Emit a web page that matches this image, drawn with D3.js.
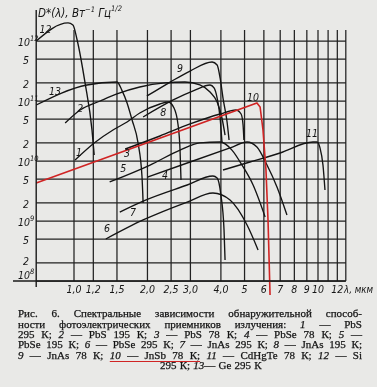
<!DOCTYPE html>
<html>
<head>
<meta charset="utf-8">
<title>Рис. 6. Спектральные зависимости D*</title>
<script src="https://cdn.jsdelivr.net/npm/d3@7"></script>
<style>
  body { margin: 0; background: #e9e9e7; }
  #wrap { position: relative; width: 377px; height: 387px; }
  #grid { position: absolute; left: 0; top: 0; }
  svg { display: block; position: absolute; left: 0; top: 0; }
  .curve { fill: none; stroke: #141414; stroke-width: 1.35; }
  .red { fill: none; stroke: #d02424; stroke-width: 1.6; }
  .lbl { font-family: "DejaVu Sans", "Liberation Sans", sans-serif; font-stretch: condensed;
         font-style: italic; font-size: 10.5px; fill: #151515; }
  .cap { font-family: "Liberation Serif", "DejaVu Serif", serif; font-size: 11px; fill: #141414;
         stroke: #141414; stroke-width: 0.25; }
</style>
</head>
<body>
<div id="wrap">
<canvas id="grid" width="377" height="387"></canvas>
<svg id="chart" width="377" height="387"></svg>
</div>
<script>
// [wavelength um, D* W^-1 Hz^1/2]
var pbs295 = [[1.01, 1.04e10], [1.21, 2.0e10], [1.445, 3.29e10], [1.65, 4.47e10], [1.86, 6.31e10],
              [2.25, 8.91e10], [2.43, 9.62e10], [2.57, 7.64e10], [2.67, 4.0e10], [2.72, 1.52e10], [2.745, 4.82e9]];
var pbs195 = [[0.92, 4.3e10], [1.06, 7.08e10], [1.28, 1.0e11], [1.50, 1.31e11], [1.86, 1.71e11], [2.36, 2.0e11],
              [2.85, 2.07e11], [3.28, 1.85e11], [3.61, 1.41e11], [3.86, 9.62e10], [4.04, 5.21e10], [4.16, 2.71e10]];
var pbs78 = [[1.62, 1.58e10], [2.25, 2.61e10], [2.99, 4.14e10], [3.97, 6.07e10], [4.61, 7.08e10],
             [4.84, 6.07e10], [4.93, 4.0e10], [4.97, 2.24e10]];
var pbse78 = [[2.01, 5.41e9], [2.99, 9.62e9], [4.36, 1.65e10], [5.12, 2.07e10], [5.62, 1.71e10],
              [6.18, 8.57e9], [6.79, 3.69e9], [7.46, 1.26e9]];
var pbse195 = [[1.40, 4.47e9], [2.05, 8.57e9], [2.72, 1.52e10], [3.28, 2.0e10], [3.97, 2.07e10],
               [4.44, 1.52e10], [4.88, 8.57e9], [5.42, 3.98e9], [6.07, 1.17e9]];
var pbse295 = [[1.35, 5.01e8], [1.92, 1.04e9], [2.91, 2.07e9], [3.71, 2.93e9], [4.36, 2.24e9],
               [5.12, 8.57e8], [5.68, 3.29e8]];
var inas295 = [[1.54, 1.41e9], [1.92, 2.15e9], [2.91, 3.98e9], [3.71, 5.62e9], [3.86, 5.21e9],
               [4.0, 2.71e9], [4.12, 7.08e8], [4.16, 2.24e8]];
var inas195 = [[1.92, 5.41e10], [2.55, 1.04e11], [3.13, 1.52e11], [3.61, 1.85e11], [3.75, 1.65e11],
               [3.86, 1.12e11], [3.97, 5.21e10], [4.04, 2.07e10]];
var inas78 = [[1.99, 1.21e11], [2.48, 2.07e11], [2.99, 3.16e11], [3.68, 4.47e11], [3.86, 3.98e11],
              [3.97, 2.42e11], [4.08, 1.12e11], [4.24, 4.47e10], [4.32, 2.24e10]];
var insb78 = [[0.70, 4.3e9], [5.62, 9.27e10], [5.79, 7.94e10], [5.95, 3.29e10], [6.12, 7.08e9],
              [6.24, 1.04e9], [6.36, 5.85e7]];
var cdhgte78 = [[4.08, 7.08e9], [5.26, 9.62e9], [6.99, 1.36e10], [9.54, 2.07e10], [9.91, 2.07e10],
                [10.19, 1.65e10], [10.48, 8.57e9], [10.68, 3.29e9]];
var si295 = [[0.70, 1.0e12], [0.945, 2.0e12], [0.99, 1.85e12], [1.03, 1.04e12], [1.11, 2.0e11],
             [1.185, 3.3e10], [1.21, 1.26e10]];
var ge295 = [[0.70, 8.57e10], [1.13, 1.85e11], [1.50, 2.07e11], [1.57, 1.52e11], [1.65, 9.27e10],
             [1.73, 4.82e10], [1.83, 2.0e10], [1.90, 5.41e9], [1.92, 2.0e9]];

var curves = [pbs295, pbs195, pbs78, pbse78, pbse195, pbse295, inas295, inas195, inas78, insb78, cdhgte78, si295, ge295];
var curveNames = ['1', '2', '3', '4', '5', '6', '7', '8', '9', '10', '11', '12', '13'];
var labelLam = [1.048, 1.06, 1.65, 2.36, 1.59, 1.365, 1.745, 2.32, 2.72, 5.42, 9.45, 0.765, 0.836];
var labelD = [1.41e10, 7.64e10, 1.36e10, 5.85e9, 7.64e9, 7.64e8, 1.41e9, 6.56e10, 3.55e11, 1.17e11, 2.93e10, 1.6e12, 1.47e11];

var xTicks = [1.0, 1.2, 1.5, 2.0, 2.5, 3.0, 4.0, 5, 6, 7, 8, 9, 10, 12];
var xTickLabels = ['1,0', '1,2', '1,5', '2,0', '2,5', '3,0', '4,0', '5', '6', '7', '8', '9', '10', '12'];
var xGrid = [1.0, 1.2, 1.5, 2.0, 2.5, 3.0, 4.0, 5, 6, 7, 8, 9, 10, 11, 12, 13];
var yTicks = [1e8, 2e8, 5e8, 1e9, 2e9, 5e9, 1e10, 2e10, 5e10, 1e11, 2e11, 5e11, 1e12];
var yTickLabels = ['10^8', '2', '5', '10^9', '2', '5', '10^10', '2', '5', '10^11', '2', '5', '10^12'];

var caption = [
  'Рис. 6. Спектральные зависимости обнаружительной способ-',
  'ности фотоэлектрических приемников излучения: _1_ — PbS',
  '295 К; _2_ — PbS 195 К; _3_ — PbS 78 К; _4_ — PbSe 78 К; _5_ —',
  'PbSe 195 К; _6_ — PbSe 295 К; _7_ — JnAs 295 К; _8_ — JnAs 195 К;',
  '_9_ — JnAs 78 К; _10_ — JnSb 78 К; _11_ — CdHgTe 78 К; _12_ — Si',
  '295 К; _13_— Ge 295 К'
];

var lamMin = 0.7, lamMax = 13;
var gridTop = 30;

var xs = d3.scaleLog().domain([1, 10]).range([74, 318]);
var ys = d3.scaleLog().domain([1e8, 1e12]).range([281, 41]);
var yBase = ys(1e8);
var gx0 = xs(lamMin), gx1 = xs(lamMax);

// grid on a canvas under the svg
var ctx = document.getElementById('grid').getContext('2d');
ctx.strokeStyle = '#222';
ctx.lineWidth = 1.25;
ctx.beginPath();
xGrid.forEach(function (v) {
  ctx.moveTo(xs(v), gridTop);
  ctx.lineTo(xs(v), yBase);
});
yTicks.forEach(function (v) {
  ctx.moveTo(gx0, ys(v));
  ctx.lineTo(gx1, ys(v));
});
ctx.stroke();

var svg = d3.select('#chart');

// curves
var lineGen = d3.line()
  .x(function (d) { return xs(d[0]); })
  .y(function (d) { return ys(d[1]); })
  .curve(d3.curveMonotoneX);

var redGen = d3.line()
  .x(function (d) { return xs(d[0]); })
  .y(function (d) { return ys(d[1]); });

curves.forEach(function (c) {
  if (c === insb78) return;
  svg.append('path').attr('class', 'curve').attr('d', lineGen(c));
});
svg.append('path').attr('class', 'red').attr('d', redGen(insb78));

// axes
svg.append('line')
  .attr('x1', 13).attr('x2', gx1).attr('y1', yBase).attr('y2', yBase)
  .attr('stroke', '#1a1a1a').attr('stroke-width', 1.4);
svg.append('line')
  .attr('x1', gx0).attr('x2', gx0).attr('y1', 10).attr('y2', yBase + 6)
  .attr('stroke', '#1a1a1a').attr('stroke-width', 1.4);

// x tick labels
xTicks.forEach(function (v, i) {
  svg.append('text').attr('class', 'lbl')
    .attr('x', xs(v)).attr('y', yBase + 12)
    .attr('text-anchor', 'middle')
    .text(xTickLabels[i]);
});
svg.append('text').attr('class', 'lbl')
  .attr('x', 344).attr('y', yBase + 12)
  .attr('textLength', 29).attr('lengthAdjust', 'spacingAndGlyphs')
  .text('λ, мкм');

// y tick labels
yTicks.forEach(function (v, i) {
  var parts = yTickLabels[i].split('^');
  var yy = ys(v) + 5 - (v === 1e8 ? 7 : 0) - (v === 2e8 ? 3 : 0);
  var t = svg.append('text').attr('class', 'lbl').attr('y', yy);
  if (parts.length > 1) {
    t.attr('x', 18);
    t.append('tspan').text(parts[0]);
    t.append('tspan').attr('dy', -5).style('font-size', '7.5px').text(parts[1]);
  } else {
    t.attr('x', 29).attr('text-anchor', 'end').text(parts[0]);
  }
});

// y title
var title = svg.append('text').attr('class', 'lbl').attr('x', 38).attr('y', 17).style('font-size', '11.5px');
title.append('tspan').text('D*(λ), Вт');
title.append('tspan').attr('dy', -5).style('font-size', '7.5px').text('−1');
title.append('tspan').attr('dy', 5).text(' Гц');
title.append('tspan').attr('dy', -6).style('font-size', '7.5px').text('1/2');

curveNames.forEach(function (n, i) {
  svg.append('text').attr('class', 'lbl')
    .attr('x', xs(labelLam[i])).attr('y', ys(labelD[i]) + 4)
    .attr('text-anchor', 'middle')
    .text(n);
});

// caption, justified like the book
var capG = svg.append('g').attr('class', 'cap');
var capLeft = 18, capRight = 362;
var capBase = [317, 327.5, 338, 348, 358.5, 369];

function addWord(g, word, yy) {
  var t = g.append('text').attr('y', yy);
  word.split('_').forEach(function (seg, k) {
    if (seg === '') return;
    t.append('tspan').style('font-style', k % 2 ? 'italic' : null).text(seg);
  });
  return t;
}

var underline = null;
caption.forEach(function (ln, li) {
  var words = ln.split(' ');
  var nodes = words.map(function (w) { return addWord(capG, w, capBase[li]); });
  var widths = nodes.map(function (t) { return t.node().getComputedTextLength(); });
  var gap, xx;
  if (li === caption.length - 1) {
    gap = 3.2;
    xx = 160;
  } else {
    gap = (capRight - capLeft - d3.sum(widths)) / (words.length - 1);
    xx = capLeft;
  }
  var pos = [];
  nodes.forEach(function (t, i) {
    t.attr('x', xx);
    pos.push(xx);
    xx += widths[i] + gap;
  });
  if (li === 4) {
    underline = [pos[5], pos[9] + widths[9], capBase[li] + 3];
  }
});

svg.append('line')
  .attr('x1', underline[0]).attr('x2', underline[1])
  .attr('y1', underline[2]).attr('y2', underline[2])
  .attr('stroke', '#d02424').attr('stroke-width', 1.1);
</script>
</body>
</html>
